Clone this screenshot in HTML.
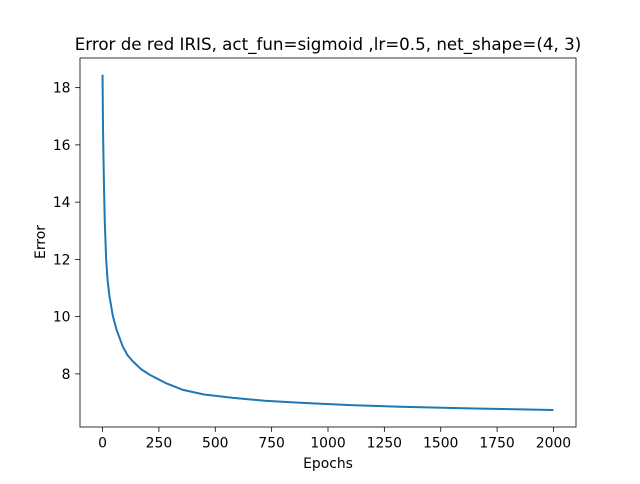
<!DOCTYPE html>
<html><head><meta charset="utf-8"><style>
body{margin:0;background:#fff;font-family:"DejaVu Sans","Liberation Sans",sans-serif;}
svg text{font-family:"DejaVu Sans","Liberation Sans",sans-serif;fill:#000;}
</style></head><body>
<svg id="chart" width="640" height="480" xmlns="http://www.w3.org/2000/svg">
<rect width="640" height="480" fill="#fff"/>
<text x="328" y="50" font-size="16.7" text-anchor="middle">Error de red IRIS, act_fun=sigmoid ,lr=0.5, net_shape=(4, 3)</text>
<g id="plot"></g>
<rect x="80" y="58" width="496" height="369" fill="none" stroke="#000" stroke-width="0.8"/>
<text x="328" y="468" font-size="13.9" text-anchor="middle">Epochs</text>
<text x="45" y="242" font-size="13.9" text-anchor="middle" transform="rotate(-90 45 242)">Error</text>
</svg>
<script>
const epochs=[0,2,4.5,7,10,16,22,30,45,62,90,111,133,170,209,280,357,450,580,720,876,1100,1320,1650,2000];
const errors=[18.45,16.6,15.4,14.3,13.3,12.0,11.3,10.75,10.05,9.54,8.95,8.65,8.45,8.17,7.97,7.68,7.44,7.28,7.16,7.06,6.99,6.91,6.85,6.79,6.74];
const xTicks=[0,250,500,750,1000,1250,1500,1750,2000];
const yTicks=[8,10,12,14,16,18];
const X0=80,X1=576,Y0=427,Y1=58,xmin=-100,xmax=2100,ymin=6.144,ymax=19.036;
const sx=v=>X0+(v-xmin)/(xmax-xmin)*(X1-X0);
const sy=v=>Y0-(v-ymin)/(ymax-ymin)*(Y0-Y1);
const NS="http://www.w3.org/2000/svg",g=document.getElementById('plot');
function mk(t,a){const e=document.createElementNS(NS,t);for(const k in a)e.setAttribute(k,a[k]);g.appendChild(e);return e;}
xTicks.forEach(t=>{
 const l=mk('line',{x1:sx(t),x2:sx(t),y1:Y0,y2:Y0+4.9,stroke:'#000','stroke-width':0.8});
 
 
 const tx=mk('text',{x:sx(t),y:Y0+20.5,'font-size':13.9,'text-anchor':'middle'});tx.textContent=t;
 
 
});
yTicks.forEach(t=>{
 const l=mk('line',{x1:X0-4.9,x2:X0,y1:sy(t),y2:sy(t),stroke:'#000','stroke-width':0.8});
 
 
 const tx=mk('text',{x:X0-9.5,y:sy(t)+5,'font-size':13.9,'text-anchor':'end'});tx.textContent=t;
 
 
});
const p=mk('polyline',{points:epochs.map((e,i)=>sx(e)+','+sy(errors[i])).join(' '),fill:'none',stroke:'#1f77b4','stroke-width':2,'stroke-linejoin':'round'});


</script>
</body></html>
